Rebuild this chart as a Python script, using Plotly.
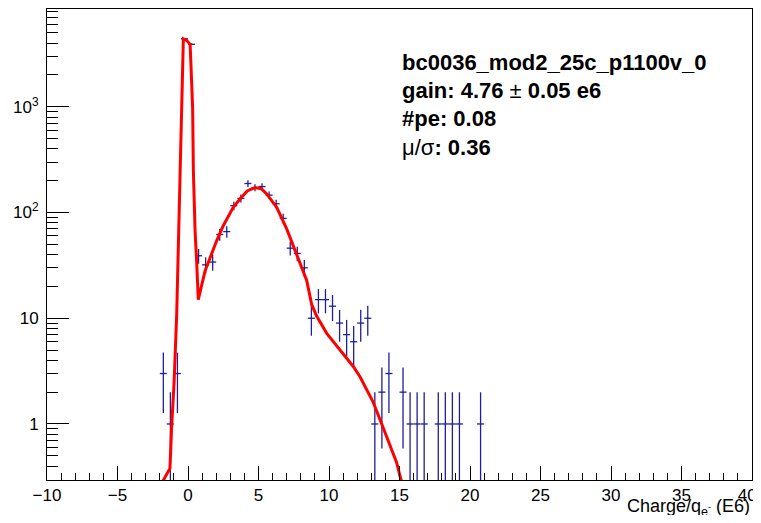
import numpy as np
import plotly.graph_objects as go

# Histogram (bin width 0.5): bin centers and counts
bin_centers = [-1.75, -1.25, -0.75, -0.25, 0.25, 0.75, 1.25, 1.75, 2.25, 2.75,
               3.25, 3.75, 4.25, 4.75, 5.25, 5.75, 6.25, 6.75, 7.25, 7.75,
               8.25, 8.75, 9.25, 9.75, 10.25, 10.75, 11.25, 11.75, 12.25, 12.75,
               13.25, 13.75, 14.25, 15.25, 15.75, 16.25, 16.75, 17.75, 18.25,
               18.75, 19.25, 20.75]
counts = [3, 1, 3, 4400, 3900, 39, 32, 34, 62, 66,
          116, 136, 188, 172, 176, 146, 121, 88, 46, 41,
          30, 10, 15, 15, 13, 9, 7, 6, 9, 10,
          1, 2, 3, 2, 1, 1, 1, 1, 1,
          1, 1, 1]
half_bin = 0.25

# Fit curve
fit_x = [-1.90, -1.28, -1.16, -0.99, -0.80, -0.72, -0.66, -0.52, -0.45, -0.36, -0.33,
         -0.10, 0.15, 0.21, 0.33, 0.38, 0.50, 0.62, 0.73, 1.21, 1.68, 2.03, 2.50,
         2.98, 3.21, 3.69, 4.20, 4.75, 5.20, 5.58, 6.29, 7.00, 7.70, 8.18, 8.42,
         8.77, 9.12, 9.84, 10.78, 11.72, 12.20, 12.43, 13.14, 13.74, 14.33, 14.80,
         15.04, 15.20]
fit_y = [0.27, 0.38, 0.94, 2.4, 11, 30, 73, 250, 820, 2500, 4400,
         4250, 3900, 2500, 960, 250, 68, 33, 15, 28, 41, 54, 75,
         100, 112, 134, 160, 172, 168, 150, 112, 70, 41, 28, 22.8,
         13.5, 10.5, 7.2, 5.0, 3.5, 2.8, 2.45, 1.6, 1.0, 0.61, 0.43,
         0.32, 0.27]

stats_lines = ["<b>bc0036_mod2_25c_p1100v_0</b>",
               "<b>gain: 4.76 </b>± <b>0.05 e6</b>",
               "<b>#pe: 0.08</b>",
               "μ/σ<b>: 0.36</b>"]

x_ticks = list(range(-10, 41, 5))
x_ticktext = ["\u221210", "\u22125", "0", "5", "10", "15", "20", "25", "30", "35", "40\u2007"]
y_ticks = [1, 10, 100, 1000]
y_ticktext = ["1", "10", "10<sup>2</sup>", "10<sup>3</sup>"]

font_family = "Liberation Sans, Arial, Helvetica, sans-serif"
hist_color = "#1f1f96"

# page offset caused by default body margin (8 px)
OFF = 8
PLOT_L, PLOT_R, PLOT_T, PLOT_B = 47, 752, 9, 480  # frame in page pixels

fig = go.Figure()
fig.add_trace(go.Scatter(
    x=bin_centers, y=counts, mode="markers",
    marker=dict(size=1, color=hist_color),
    error_x=dict(type="constant", value=half_bin, width=0, color=hist_color, thickness=1.3),
    error_y=dict(type="data", array=list(np.sqrt(counts)), width=0, color=hist_color, thickness=1.3),
    showlegend=False, hoverinfo="skip"))
fig.add_trace(go.Scatter(
    x=fit_x, y=fit_y, mode="lines",
    line=dict(color="#ff0000", width=3),
    showlegend=False, hoverinfo="skip"))

minor_y = [d * 10.0 ** e for e in range(-1, 4) for d in range(2, 10)]
minor_y = [v for v in minor_y if 0.29 <= v <= 8400]

W, H = 761 - OFF, 523 - 2 * OFF
fig.update_layout(
    width=W, height=H,
    margin=dict(l=PLOT_L - OFF, r=W - (PLOT_R - OFF), t=PLOT_T - OFF, b=H - (PLOT_B - OFF), pad=0),
    paper_bgcolor="white", plot_bgcolor="white",
    font=dict(family=font_family, size=17, color="black"),
    xaxis=dict(range=[-10, 40], showgrid=False, zeroline=False,
               showline=True, linecolor="black", linewidth=1, mirror=True,
               ticks="inside", ticklen=14, tickcolor="black", tickwidth=1,
               tickmode="array", tickvals=x_ticks, ticktext=x_ticktext,
               minor=dict(ticks="inside", ticklen=7, dtick=1, tickcolor="black", showgrid=False),
               tickfont=dict(size=17), automargin=False, ticklabeloverflow="allow"),
    yaxis=dict(type="log", range=[-0.53, 3.925], showgrid=False, zeroline=False,
               showline=True, linecolor="black", linewidth=1, mirror=True,
               ticks="inside", ticklen=22, tickcolor="black", tickwidth=1,
               tickmode="array", tickvals=y_ticks, ticktext=y_ticktext,
               minor=dict(ticks="inside", ticklen=11, tickmode="array", tickvals=minor_y,
                          tickcolor="black", showgrid=False),
               tickfont=dict(size=17), ticklabelstandoff=4, automargin=False),
)

PH = PLOT_B - PLOT_T
PW = PLOT_R - PLOT_L
line_y_px = [63, 91, 119, 147]
for txt, ypx in zip(stats_lines, line_y_px):
    fig.add_annotation(text=txt, xref="paper", yref="paper",
                       x=(400 - PLOT_L) / PW, y=(PLOT_B - ypx) / PH,
                       xanchor="left", yanchor="middle", showarrow=False,
                       font=dict(size=22, family=font_family, color="black"))

fig.add_annotation(text="Charge/q<sub>e<sup>-</sup></sub> (E6)", xref="paper", yref="paper",
                   x=1.0, y=(PLOT_B - 507) / PH, xanchor="right", yanchor="middle",
                   showarrow=False, font=dict(size=18, family=font_family, color="black"))

fig.write_html("out.html")
